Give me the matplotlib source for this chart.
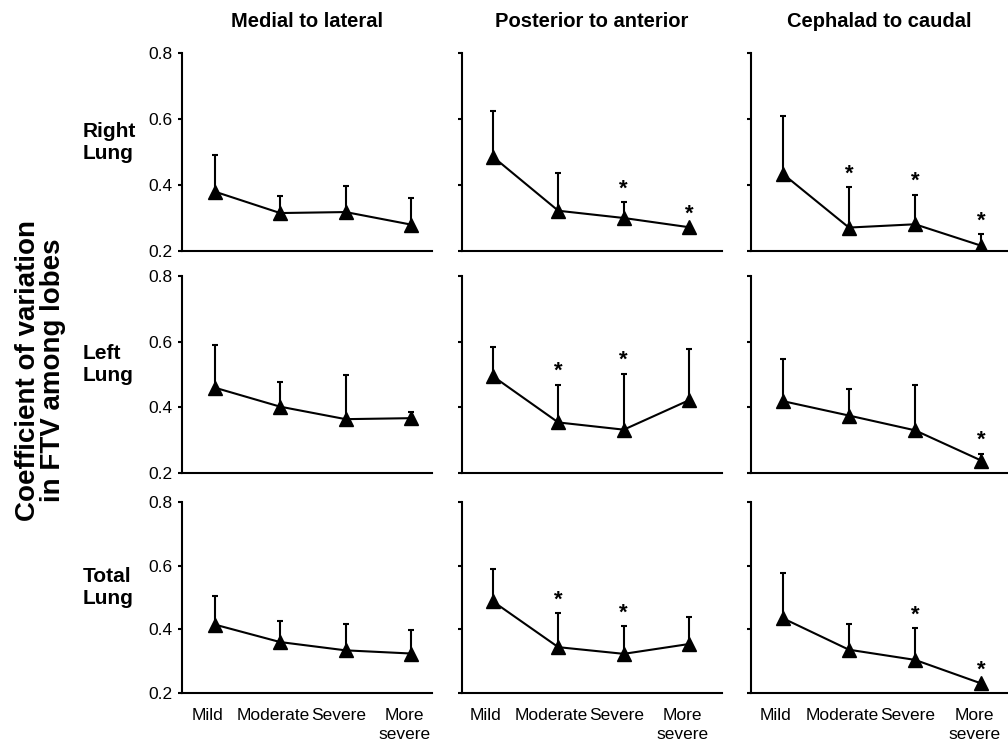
import matplotlib
matplotlib.use("Agg")
import matplotlib.pyplot as plt
import matplotlib.transforms as mtransforms
import numpy as np

plt.rcParams["font.family"] = ["Liberation Sans", "DejaVu Sans"]

# %%
severity = ["Mild", "Moderate", "Severe", "More\nsevere"]
directions = ["Medial to lateral", "Posterior to anterior", "Cephalad to caudal"]
regions = ["Right\nLung", "Left\nLung", "Total\nLung"]

# rows: medial-lateral, posterior-anterior, cephalad-caudal
mean_right = [[0.380, 0.315, 0.318, 0.280],
              [0.486, 0.322, 0.300, 0.272],
              [0.434, 0.271, 0.281, 0.216]]
sd_right = [[0.110, 0.051, 0.078, 0.080],
            [0.137, 0.113, 0.048, 0.000],
            [0.174, 0.122, 0.090, 0.035]]
sig_right = [[0, 0, 0, 0],
             [0, 0, 1, 1],
             [0, 1, 1, 1]]

mean_left = [[0.460, 0.402, 0.364, 0.367],
             [0.495, 0.354, 0.332, 0.422],
             [0.419, 0.375, 0.330, 0.238]]
sd_left = [[0.129, 0.076, 0.134, 0.019],
           [0.088, 0.115, 0.170, 0.157],
           [0.129, 0.080, 0.137, 0.020]]
sig_left = [[0, 0, 0, 0],
            [0, 1, 1, 0],
            [0, 0, 0, 1]]

mean_total = [[0.415, 0.360, 0.334, 0.324],
              [0.488, 0.344, 0.323, 0.354],
              [0.435, 0.336, 0.304, 0.230]]
sd_total = [[0.089, 0.066, 0.083, 0.073],
            [0.100, 0.106, 0.087, 0.084],
            [0.142, 0.081, 0.100, 0.000]]
sig_total = [[0, 0, 0, 0],
             [0, 1, 1, 0],
             [0, 0, 1, 1]]

means = [mean_right, mean_left, mean_total]
sds = [sd_right, sd_left, sd_total]
sigs = [sig_right, sig_left, sig_total]

# %%
fig = plt.figure(figsize=(10.08, 7.48), dpi=100)

col_left = [182, 462, 751]
col_width = [250, 260, 256]
row_top = [53, 276, 502]
row_height = [198, 197, 191]
x_limits = [(-0.5, 3.32), (-0.47, 3.5), (-0.48, 3.39)]

x = np.arange(len(severity))
# labels in the original sit a little left of the points
label_shift = mtransforms.ScaledTranslation(-5 / 72, 0, fig.dpi_scale_trans)

for r in range(3):
    for c in range(3):
        rect = [col_left[c] / 1008, 1 - (row_top[r] + row_height[r]) / 748,
                col_width[c] / 1008, row_height[r] / 748]
        ax = fig.add_axes(rect)
        m = np.asarray(means[r][c])
        s = np.asarray(sds[r][c])
        ax.errorbar(x, m, yerr=[np.zeros_like(s), s], fmt="-^", color="black",
                    ms=10.5, lw=1.5, elinewidth=1.5, capsize=2.5, capthick=1.5)
        for i, flag in enumerate(sigs[r][c]):
            if flag:
                ax.annotate("*", (x[i], m[i] + s[i]), xytext=(0, 2),
                            textcoords="offset points", ha="center", va="bottom",
                            fontsize=16, fontweight="bold")
        ax.set_ylim(0.2, 0.8)
        ax.set_xlim(*x_limits[c])
        ax.set_yticks([0.2, 0.4, 0.6, 0.8])
        ax.spines["top"].set_visible(False)
        ax.spines["right"].set_visible(False)
        ax.spines["left"].set_linewidth(1.5)
        ax.spines["bottom"].set_linewidth(1.5)
        ax.tick_params(axis="y", direction="out", length=3, width=1.5,
                       labelsize=12.5, pad=4)
        ax.tick_params(axis="x", length=0, labelsize=12.5, pad=11)
        if c == 0:
            ax.set_yticklabels([f"{v:.1f}" for v in [0.2, 0.4, 0.6, 0.8]])
            ax.text(-0.396, 0.55, regions[r], transform=ax.transAxes,
                    ha="left", va="center", fontsize=15, fontweight="bold",
                    linespacing=1.2)
        else:
            ax.set_yticklabels([])
        if r == 2:
            ax.set_xticks(x)
            ax.set_xticklabels(severity, linespacing=1.3)
            for lab in ax.get_xticklabels():
                lab.set_transform(lab.get_transform() + label_shift)
        else:
            ax.set_xticks([])
        if r == 0:
            ax.set_title(directions[c], fontsize=14.5, fontweight="bold", pad=19)

fig.text(0.04, 0.505, "Coefficient of variation\nin FTV among lobes",
         rotation=90, ha="center", va="center", fontsize=20, fontweight="bold",
         linespacing=0.95)

fig.savefig("out.png", dpi=100)
